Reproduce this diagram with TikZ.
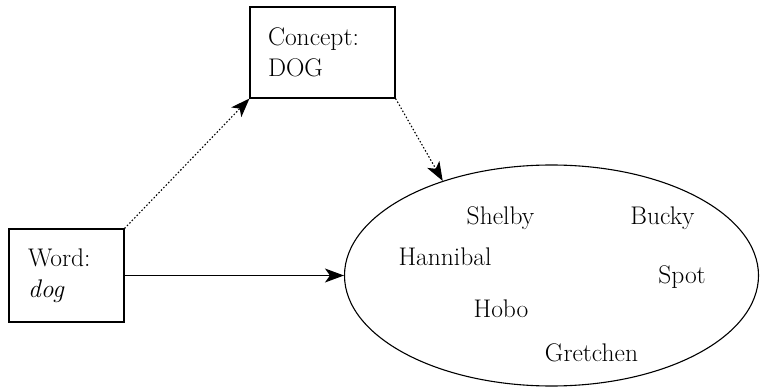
\documentclass[tikz,border=0pt]{standalone}
\usetikzlibrary{shapes.geometric,arrows.meta}
\tikzset{
  box/.style={draw, line width=1.1pt, rectangle, inner xsep=18pt, inner ysep=0pt, align=left, font=\fontsize{25.5}{31}\selectfont},
  dogname/.style={inner sep=0pt, font=\fontsize{25.5}{30}\selectfont},
  tip/.style={-{Stealth[length=19pt,width=14pt,inset=5pt]}, line width=1.1pt},
  dotline/.style={dash pattern=on 1.5pt off 2pt}
}
\begin{document}
\begin{tikzpicture}[x=1pt,y=-1pt]
\useasboundingbox (0,0) rectangle (760,387);
\node[box, minimum width=145pt, minimum height=91pt, text width=109pt] (concept) at (322.5,52.5) {Concept:\\DOG};
\node[box, minimum width=115pt, minimum height=93pt, inner xsep=19pt, text width=77pt] (word) at (66.5,275.5) {Word:\\\textit{dog}};
\node[draw, line width=1.1pt, ellipse, inner sep=0pt, minimum width=414pt, minimum height=221pt] (ell) at (551.5,275.5) {};
\node[dogname] (shelby) at (500.5,218) {Shelby};
\node[dogname] (bucky) at (662.5,218) {Bucky};
\node[dogname] (hannibal) at (445,257) {Hannibal};
\node[dogname] (spot) at (682,277) {Spot};
\node[dogname] (hobo) at (501,309) {Hobo};
\node[dogname] (gretchen) at (591.5,353) {Gretchen};
\draw[tip, dotline] (word.north east) -- (concept.south west);
\draw[tip, dotline] (concept.south east) -- (ell.139);
\draw[tip] (word.east) -- (ell.west);
\end{tikzpicture}
\end{document}
